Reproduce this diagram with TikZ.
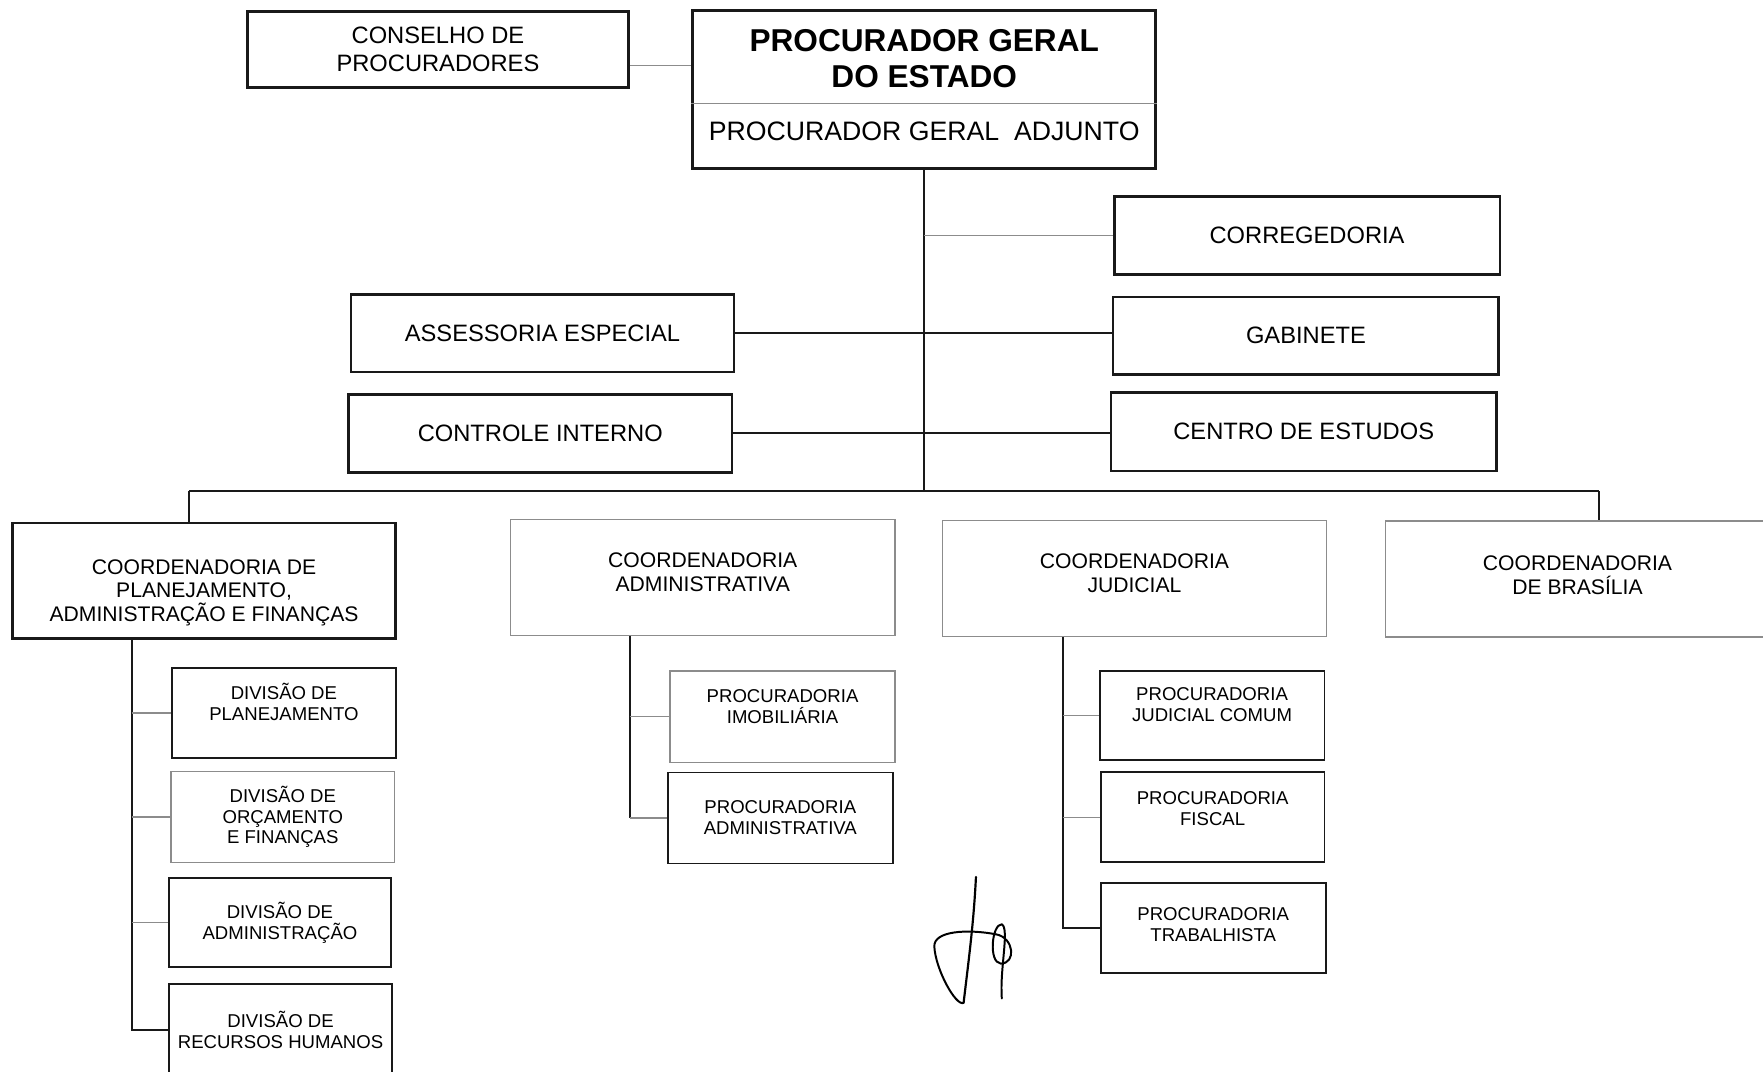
\documentclass[tikz,border=0pt]{standalone}
\usepackage{fontspec}
\setmainfont{Liberation Sans}
\usepackage{tikz}
\definecolor{lightline}{gray}{0.55}
\definecolor{boxline}{gray}{0.1}

\begin{document}
\begin{tikzpicture}[x=0.02cm, y=-0.02cm,
    box/.style={draw=boxline, line width=1.3pt, inner sep=0pt, align=center,
        font=\fontsize{12}{14}\selectfont},
    coordbox/.style={draw=lightline, line width=0.7pt, inner sep=0pt, align=center,
        minimum width=6.84cm, minimum height=2.06cm, font=\fontsize{10.7}{12}\selectfont},
    coordtag/.style={align=center, inner sep=0pt, font=\fontsize{10.7}{12}\selectfont},
    subbox/.style={draw=boxline, line width=1pt, inner sep=0pt, align=center,
        minimum width=3.98cm, minimum height=1.6cm, font=\fontsize{9.4}{10.6}\selectfont},
    subtag/.style={align=center, inner sep=0pt, font=\fontsize{9.4}{10.6}\selectfont},
    link/.style={draw=boxline, line width=1pt},
    tick/.style={draw=lightline, line width=0.7pt}]
    \useasboundingbox (0,0) rectangle (1568,953);

    % top
    \node[box, minimum width=6.78cm, minimum height=1.36cm] (cons) at (389.5,44) {CONSELHO DE\\PROCURADORES};
    \node[box, line width=1.6pt, minimum width=8.24cm, minimum height=2.82cm] (pge) at (822,79.5) {};
    \node[align=center, font=\fontsize{16}{18.2}\selectfont\bfseries] (pgetit) at (822,52) {PROCURADOR GERAL\\DO ESTADO};
    \node[font=\fontsize{13.5}{15}\selectfont] (pgeadj) at (822,117) {PROCURADOR GERAL \ ADJUNTO};
    \coordinate (pgediv) at (822,92);
    \draw[tick] (pge.west |- pgediv) -- (pge.east |- pgediv);
    \coordinate (consln) at (0,58);
    \draw[tick] (cons.east |- consln) -- (pge.west |- consln);

    % staff
    \node[box, minimum width=6.86cm, minimum height=1.38cm] (corr) at (1162.5,209.5) {CORREGEDORIA};
    \node[box, minimum width=6.82cm, minimum height=1.38cm] (asse) at (482.5,296.5) {ASSESSORIA ESPECIAL};
    \node[box, minimum width=6.86cm, minimum height=1.38cm] (gab) at (1161.5,298.5) {GABINETE};
    \node[box, minimum width=6.82cm, minimum height=1.38cm] (ctrl) at (480.5,385.5) {CONTROLE INTERNO};
    \node[box, minimum width=6.86cm, minimum height=1.40cm] (cent) at (1159.5,384) {CENTRO DE ESTUDOS};

    \coordinate (busL) at (168,437);
    \coordinate (busR) at (1422,437);
    \draw[link] (pge.south) -- (pge.south |- busL);
    \draw[tick] (pge.south |- corr.west) -- (corr.west);
    \draw[link] (asse.east) -- (asse.east -| gab.west);
    \draw[link] (ctrl.east) -- (ctrl.east -| cent.west);
    \draw[link] (busL) -- (busR);

    % coordenadorias
    \node[coordbox, draw=boxline, line width=1.3pt, minimum width=6.82cm,
        label={[coordtag, yshift=-6pt]center:{COORDENADORIA DE\\PLANEJAMENTO,\\ADMINISTRAÇÃO E FINANÇAS}}] (cplan) at (181.5,516.5) {};
    \node[coordbox, label={[coordtag, yshift=2.5pt]center:{COORDENADORIA\\ADMINISTRATIVA}}] (cadm) at (625,513.5) {};
    \node[coordbox, label={[coordtag, yshift=2.5pt]center:{COORDENADORIA\\JUDICIAL}}] (cjud) at (1009,514.5) {};
    \node[coordbox, label={[coordtag, yshift=2pt]center:{COORDENADORIA\\DE BRASÍLIA}}] (cbra) at (1403,515) {};
    \draw[link] (busL) -- (busL |- cplan.north);
    \draw[link] (busR) -- (busR |- cbra.north);

    % divisoes
    \node[subbox, label={[subtag, yshift=5.5pt]center:{DIVISÃO DE\\PLANEJAMENTO}}] (dpl) at (252.5,634) {};
    \node[subbox, draw=lightline, line width=0.7pt, minimum height=1.62cm] (dorc) at (251.5,726.5) {DIVISÃO DE\\ORÇAMENTO\\E FINANÇAS};
    \node[subbox, minimum width=3.96cm, minimum height=1.58cm] (dadm) at (249,820.5) {DIVISÃO DE\\ADMINISTRAÇÃO};
    \node[subbox, minimum height=1.64cm] (drh) at (249.5,916) {DIVISÃO DE\\RECURSOS HUMANOS};
    \coordinate (pspine) at (117,568);
    \draw[link] (pspine |- cplan.south) -- (pspine |- drh.west) -- (drh.west);
    \foreach \n in {dpl,dorc,dadm}
        \draw[tick] (pspine |- \n.west) -- (\n.west);

    % procuradorias
    \node[subbox, draw=lightline, line width=0.8pt, minimum width=4cm, minimum height=1.62cm,
        label={[subtag, yshift=5pt]center:{PROCURADORIA\\IMOBILIÁRIA}}] (pimo) at (696,637.5) {};
    \node[subbox, line width=0.8pt, minimum width=4cm, minimum height=1.62cm] (padm) at (694,727.5) {PROCURADORIA\\ADMINISTRATIVA};
    \coordinate (aspine) at (560,565);
    \draw[link] (aspine |- cadm.south) -- (aspine |- padm.west);
    \foreach \n in {pimo,padm}
        \draw[tick] (aspine |- \n.west) -- (\n.west);

    \node[subbox, minimum width=4cm, minimum height=1.58cm,
        label={[subtag, yshift=5.5pt]center:{PROCURADORIA\\JUDICIAL COMUM}}] (pjc) at (1078,636.5) {};
    \node[subbox, label={[subtag, yshift=4.5pt]center:{PROCURADORIA\\FISCAL}}] (pfis) at (1078.5,727) {};
    \node[subbox, minimum width=4cm, label={[subtag, yshift=1.5pt]center:{PROCURADORIA\\TRABALHISTA}}] (ptrab) at (1079,825) {};
    \coordinate (jspine) at (945,566);
    \draw[link] (jspine |- cjud.south) -- (jspine |- ptrab.west) -- (ptrab.west);
    \foreach \n in {pjc,pfis}
        \draw[tick] (jspine |- \n.west) -- (\n.west);

    % rubrica
    \draw[line width=1.1pt, line cap=round] (868,780) .. controls (866,820) and (862,850) .. (857,892);
    \draw[line width=1pt, line cap=round, line join=round] (857,892) .. controls (850,895) and (832,862) .. (831,842)
        .. controls (830,828) and (860,826) .. (886,831)
        .. controls (902,834) and (904,857) .. (890,857)
        .. controls (879,856) and (882,822) .. (891,822)
        .. controls (898,826) and (889,862) .. (891,888);
\end{tikzpicture}
\end{document}
